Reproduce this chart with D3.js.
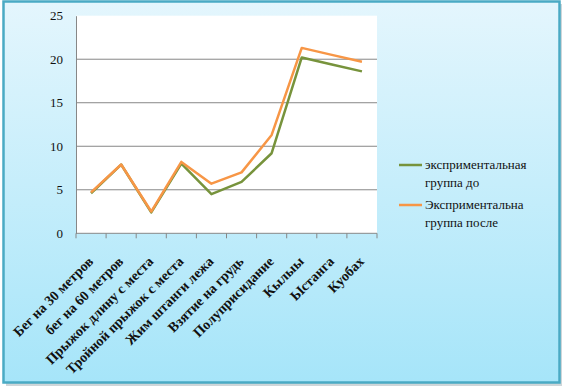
<!DOCTYPE html>
<html>
<head>
<meta charset="utf-8">
<script src="https://cdn.jsdelivr.net/npm/d3@7/dist/d3.min.js"></script>
<style>
  body { margin: 0; background: #fff; }
  svg { display: block; }
  text { font-family: "Liberation Serif", "Times New Roman", serif; }
</style>
</head>
<body>
<div id="chart"></div>
<script>
// chart data
const categories = ["Бег на 30 метров", "бег на 60 метров", "Прыжок длину с места", "Тройной прыжок с места",
    "Жим штанги лежа", "Взятие на грудь", "Полуприсидание", "Кылыы", "Ыстанга", "Куобах"];
const before = [4.6, 7.9, 2.4, 8.0, 4.5, 5.9, 9.2, 20.2, 19.4, 18.6];
const after = [4.7, 7.9, 2.5, 8.2, 5.7, 7.0, 11.3, 21.3, 20.5, 19.7];
const seriesNames = ["эксприментальная группа до", "Эксприментальна группа после"];
const yTicks = [0, 5, 10, 15, 20, 25];

const serif = "'Liberation Serif', 'Times New Roman', serif";
const width = 565, height = 390;
const svg = d3.select("#chart").append("svg").attr("width", width).attr("height", height);

//background gradient for the outer frame
const defs = svg.append("defs");
const grad = defs.append("linearGradient").attr("id", "bg").attr("x1", 0).attr("y1", 0).attr("x2", 0).attr("y2", 1);
grad.append("stop").attr("offset", "0%").attr("stop-color", "#e4f6fd");
grad.append("stop").attr("offset", "100%").attr("stop-color", "#a6e5f9");

//shadow then frame
svg.append("rect").attr("x", 6).attr("y", 4).attr("width", 556).attr("height", 382).attr("fill", "#cfd6d9");
svg.append("rect").attr("x", 3.5).attr("y", 1.5).attr("width", 556).attr("height", 381)
    .attr("fill", "url(#bg)").attr("stroke", "#4aaac4").attr("stroke-width", 2.5);

const plot = {left: 76, right: 377, top: 15.7, bottom: 233.3};

const x = d3.scaleBand().domain(categories).range([plot.left, plot.right]);
const y = d3.scaleLinear().domain([0, 25]).range([plot.bottom, plot.top]);

svg.append("rect").attr("x", plot.left).attr("y", plot.top)
    .attr("width", plot.right - plot.left).attr("height", plot.bottom - plot.top).attr("fill", "white");

//gridlines
svg.append("g").selectAll("line").data(yTicks.slice(1, -1)).enter().append("line")
    .attr("x1", plot.left).attr("x2", plot.right)
    .attr("y1", d => y(d)).attr("y2", d => y(d))
    .attr("stroke", "#878787").attr("stroke-width", 1);

//y axis
const yAxis = svg.append("g").attr("transform", "translate(" + plot.left + ",0)")
    .call(d3.axisLeft(y).tickValues(yTicks).tickSize(0).tickPadding(13));
yAxis.attr("font-family", serif).attr("font-size", 13);
yAxis.select(".domain").attr("stroke", "#878787");
yAxis.selectAll("text").attr("fill", "#111");

//x axis with ticks between categories
const xAxis = svg.append("g").attr("transform", "translate(0," + plot.bottom + ")");
xAxis.append("line").attr("x1", plot.left).attr("x2", plot.right).attr("stroke", "#878787");
const bounds = categories.map(c => x(c)).concat([plot.right]);
xAxis.selectAll(".tk").data(bounds).enter().append("line").attr("class", "tk")
    .attr("x1", d => d).attr("x2", d => d).attr("y1", 0).attr("y2", 5).attr("stroke", "#878787");
xAxis.selectAll("text").data(categories).enter().append("text")
    .attr("text-anchor", "end")
    .attr("font-family", serif).attr("font-weight", "bold").attr("font-size", 14)
    .attr("fill", "#111")
    .attr("transform", d => "translate(" + (x(d) + x.bandwidth() / 2 + 3) + ",29) rotate(-45)")
    .text(d => d);

//lines
const line = d3.line().x((d, i) => x(categories[i]) + x.bandwidth() / 2).y(d => y(d));
const colors = ["#77933c", "#f79646"];
[before, after].forEach((s, i) => {
    svg.append("path").datum(s).attr("d", line).attr("fill", "none")
        .attr("stroke", colors[i]).attr("stroke-width", 2.5).attr("stroke-linejoin", "round");
});

//legend
const legend = svg.append("g");
[[165, 183], [205, 223]].forEach((rows, i) => {
    legend.append("line").attr("x1", 399).attr("x2", 422).attr("y1", rows[0]).attr("y2", rows[0])
        .attr("stroke", colors[i]).attr("stroke-width", 2.5);
    const words = seriesNames[i].split(" ");
    const t = legend.append("text").attr("font-family", serif).attr("font-size", 13).attr("fill", "#111");
    t.append("tspan").attr("x", 425).attr("y", rows[0] + 4).text(words[0]);
    t.append("tspan").attr("x", 425).attr("y", rows[1] + 4).text(words.slice(1).join(" "));
});
</script>
</body>
</html>
